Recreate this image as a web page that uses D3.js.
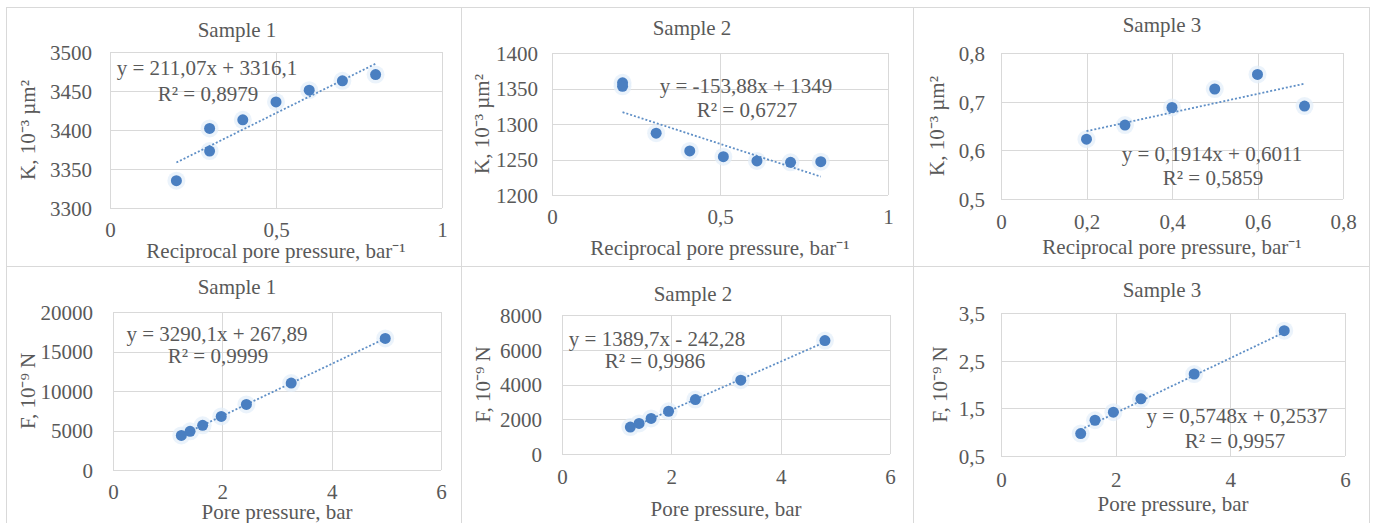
<!DOCTYPE html>
<html><head><meta charset="utf-8">
<script src="https://cdn.jsdelivr.net/npm/d3@7"></script>
<style>body{margin:0;background:#fff}svg{display:block}text{font-family:"Liberation Serif","Times New Roman",serif;fill:#595959}</style>
</head><body><svg id="c" width="1374" height="523"></svg>
<script>
// ---------- DATA ----------
const titles = ["Sample 1","Sample 2","Sample 3","Sample 1","Sample 2","Sample 3"];
const yLabels = ["K, 10\u207B\u00B3 \u00B5m\u00B2","K, 10\u207B\u00B3 \u00B5m\u00B2","K, 10\u207B\u00B3 \u00B5m\u00B2","F, 10\u207B\u2079 N","F, 10\u207B\u2079 N","F, 10\u207B\u2079 N"];
const xLabels = ["Reciprocal pore pressure, bar\u207B\u00B9","Reciprocal pore pressure, bar\u207B\u00B9","Reciprocal pore pressure, bar\u207B\u00B9","Pore pressure, bar","Pore pressure, bar","Pore pressure, bar"];

const s1kX = [0.2,0.3,0.3,0.4,0.5,0.6,0.7,0.8];
const s1kY = [3335,3373,3402,3413,3436,3451,3463,3471];
const s2kX = [0.21,0.21,0.31,0.41,0.51,0.61,0.71,0.8];
const s2kY = [1358,1353,1287,1262,1254,1248,1246,1247];
const s3kX = [0.2,0.29,0.4,0.5,0.6,0.71];
const s3kY = [0.623,0.652,0.688,0.726,0.756,0.691];
const s1fX = [1.25,1.41,1.64,1.98,2.44,3.26,4.98];
const s1fY = [4380,4900,5650,6780,8300,11000,16650];
const s2fX = [1.25,1.41,1.63,1.95,2.44,3.27,4.81];
const s2fY = [1550,1760,2050,2460,3130,4250,6530];
const s3fX = [1.39,1.64,1.96,2.44,3.37,4.94];
const s3fY = [0.97,1.25,1.42,1.70,2.22,3.13];

const trendSlope = [211.07,-153.88,0.1914,3290.1,1389.7,0.5748];
const trendIntercept = [3316.1,1349,0.6011,267.89,-242.28,0.2537];
const eqTexts = ["y = 211,07x + 3316,1","y = -153,88x + 1349","y = 0,1914x + 0,6011","y = 3290,1x + 267,89","y = 1389,7x - 242,28","y = 0,5748x + 0,2537"];
const r2Texts = ["R\u00B2 = 0,8979","R\u00B2 = 0,6727","R\u00B2 = 0,5859","R\u00B2 = 0,9999","R\u00B2 = 0,9986","R\u00B2 = 0,9957"];

const xTicks = [[0,0.5,1],[0,0.5,1],[0,0.2,0.4,0.6,0.8],[0,2,4,6],[0,2,4,6],[0,2,4,6]];
const yTicks = [[3300,3350,3400,3450,3500],[1200,1250,1300,1350,1400],[0.5,0.6,0.7,0.8],[0,5000,10000,15000,20000],[0,2000,4000,6000,8000],[0.5,1.5,2.5,3.5]];

const seriesX = [s1kX,s2kX,s3kX,s1fX,s2fX,s3fX];
const seriesY = [s1kY,s2kY,s3kY,s1fY,s2fY,s3fY];

// ---------- LAYOUT ----------
const layout = [
 {box:[6,7,455,259], p:{l:110,r:442,t:52,b:208}, title:[237,30], xTickY:230, xLabY:251, yLabX:28, yTickX:92, eq:[207,68], r2:[208,94]},
 {box:[461,7,452,259], p:{l:552,r:888,t:53,b:195}, title:[692,28], xTickY:217, xLabY:248, yLabX:482, yTickX:538, eq:[746,86], r2:[747,110]},
 {box:[913,7,456,259], p:{l:1001,r:1343,t:53,b:199}, title:[1162,25], xTickY:222, xLabY:247, yLabX:937, yTickX:985, eq:[1212,154], r2:[1213,178]},
 {box:[6,266,455,270], p:{l:113,r:441,t:312,b:470}, title:[237,287], xTickY:492, xLabY:512, yLabX:28, yTickX:93, eq:[217,334], r2:[218,356]},
 {box:[461,266,452,270], p:{l:562,r:890,t:315,b:454}, title:[693,294], xTickY:477, xLabY:509, yLabX:483, yTickX:542, eq:[657,339], r2:[655,361]},
 {box:[913,266,456,270], p:{l:1001,r:1345,t:313,b:456}, title:[1162,290], xTickY:480, xLabY:504, yLabX:940, yTickX:985, eq:[1237,416], r2:[1235,441]}
];

const FS = 21;
const svg = d3.select("#c");
svg.append("rect").attr("width",1374).attr("height",523).attr("fill","#fff");
const fmt = v => String(v).replace(".", ",");

layout.forEach((L,i)=>{
  const g = svg.append("g");
  g.append("rect").attr("x",L.box[0]+0.5).attr("y",L.box[1]+0.5).attr("width",L.box[2]).attr("height",L.box[3])
   .attr("fill","#fff").attr("stroke","#d9d9d9").attr("stroke-width",1);
  const xt = xTicks[i], yt = yTicks[i];
  const x = d3.scaleLinear().domain([xt[0], xt[xt.length-1]]).range([L.p.l, L.p.r]);
  const y = d3.scaleLinear().domain([yt[0], yt[yt.length-1]]).range([L.p.b, L.p.t]);
  const gy = g.append("g").attr("transform",`translate(${L.p.l},0)`)
    .call(d3.axisLeft(y).tickValues(yt).tickSize(-(L.p.r-L.p.l)).tickFormat(""));
  gy.select(".domain").remove();
  gy.selectAll("line").attr("stroke","#d9d9d9").attr("shape-rendering","crispEdges");
  const gx = g.append("g").attr("transform",`translate(0,${L.p.b})`)
    .call(d3.axisBottom(x).tickValues(xt).tickSize(-(L.p.b-L.p.t)).tickFormat(""));
  gx.select(".domain").remove();
  gx.selectAll("line").attr("stroke","#d9d9d9").attr("shape-rendering","crispEdges");
  const ly = g.append("g").attr("transform",`translate(${L.yTickX},0)`)
    .call(d3.axisLeft(y).tickValues(yt).tickSize(0).tickPadding(0).tickFormat(fmt));
  ly.select(".domain").remove();
  ly.selectAll("text").attr("font-size",FS).attr("fill","#595959").attr("dy","0.35em").attr("font-family","Liberation Serif");
  const lx = g.append("g").attr("transform",`translate(0,${L.xTickY})`)
    .call(d3.axisBottom(x).tickValues(xt).tickSize(0).tickPadding(0).tickFormat(fmt));
  lx.select(".domain").remove();
  lx.selectAll("text").attr("font-size",FS).attr("fill","#595959").attr("y",0).attr("dy","0.35em").attr("font-family","Liberation Serif");
  g.append("text").attr("x",L.title[0]).attr("y",L.title[1]).attr("dy","0.35em").attr("text-anchor","middle").attr("font-size",FS).text(titles[i]);
  g.append("text").attr("x",(L.p.l+L.p.r)/2).attr("y",L.xLabY).attr("dy","0.35em").attr("text-anchor","middle").attr("font-size",FS).text(xLabels[i]);
  g.append("text").attr("transform",`translate(${L.yLabX},${(L.p.t+L.p.b)/2}) rotate(-90)`).attr("dy","0.35em").attr("text-anchor","middle").attr("font-size",FS).text(yLabels[i]);
  const xs = seriesX[i], ys = seriesY[i];
  const x0 = d3.min(xs), x1 = d3.max(xs);
  const line = d3.line().x(d=>x(d)).y(d=>y(trendSlope[i]*d+trendIntercept[i]));
  const pts = xs.map((v,k)=>({x:v,y:ys[k]}));
  g.append("g").selectAll("circle").data(pts).join("circle").attr("cx",d=>x(d.x)).attr("cy",d=>y(d.y)).attr("r",9)
    .attr("fill","#e3eef9").attr("opacity",0.7);
  g.append("path").datum([x0,x1]).attr("d",line).attr("fill","none").attr("stroke","#5f8fc6").attr("stroke-width",1.8).attr("stroke-dasharray","2,2");
  g.append("g").selectAll("circle").data(pts).join("circle").attr("cx",d=>x(d.x)).attr("cy",d=>y(d.y)).attr("r",5.5)
    .attr("fill","#4a7fc1");
  g.append("text").attr("x",L.eq[0]).attr("y",L.eq[1]).attr("dy","0.35em").attr("text-anchor","middle").attr("font-size",FS).text(eqTexts[i]);
  g.append("text").attr("x",L.r2[0]).attr("y",L.r2[1]).attr("dy","0.35em").attr("text-anchor","middle").attr("font-size",FS).text(r2Texts[i]);
});
</script></body></html>
